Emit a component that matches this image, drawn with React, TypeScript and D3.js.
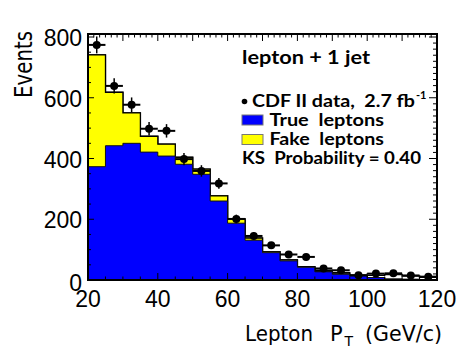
import React from 'react';
import * as d3 from 'd3';

// bin low edges (GeV/c), each bin is 5 wide
const binLowEdges = [20, 25, 30, 35, 40, 45, 50, 55, 60, 65, 70, 75, 80, 85, 90, 95, 100, 105, 110, 115];
const binWidth = 5;

// stacked prediction
const trueLeptons = [373, 442, 450, 421, 408, 381, 348, 260, 187, 131, 90, 63, 42, 27, 19, 13, 8, 3, 2, 1];
const fakeLeptons = [368, 176, 100, 52, 39, 23, 17, 17, 14, 7, 3, 3, 2, 1, 1, 1, 0, 0, 0, 0];
const totalExpected = [741, 618, 550, 473, 447, 404, 365, 277, 201, 138, 93, 66, 44, 32, 24, 16, 16, 18, 13, 9];

// CDF II data
const dataCounts = [774, 639, 577, 498, 491, 398, 359, 318, 201, 145, 114, 84, 76, 38, 32, 16, 21, 22, 15, 11];

const xTickLabels = [20, 40, 60, 80, 100, 120];
const yTickLabels = [0, 200, 400, 600, 800];

const W = 472;
const H = 354;
const left = 88, right = 437, top = 34, bottom = 280;
const sp = '\u00a0';

const App = () => {
  const x = d3.scaleLinear().domain([20, 120]).range([left, right]);
  const y = d3.scaleLinear().domain([0, 800]).range([bottom, 37]);

  // step outline: repeat last value at upper edge
  const stepArea = (vals: number[]) => {
    const pts = binLowEdges.map((e, i) => [e, vals[i]]);
    pts.push([binLowEdges[binLowEdges.length - 1] + binWidth, vals[vals.length - 1]]);
    return d3.area<number[]>()
      .x(d => x(d[0]))
      .y0(y(0))
      .y1(d => y(d[1]))
      .curve(d3.curveStepAfter)(pts) || '';
  };

  const stacked = trueLeptons.map((t, i) => t + fakeLeptons[i]);

  const font = 'Liberation Sans, Arial, sans-serif';
  const legendFont = 'Lato, Open Sans, sans-serif';

  // tick marks
  const leftMinor = d3.range(0, 801, 50);
  const rightMinor = d3.range(0, 811, 20);
  const topMinor = d3.range(0, 61).map(i => 20 + i * 10 / 6);
  const bottomMinor = d3.range(20, 121, 5);

  return (
    <svg width={W} height={H} style={{ display: 'block', position: 'absolute', left: 0, top: 0 }}>
      <rect width={W} height={H} fill="white" />

      {/* histograms */}
      <path d={stepArea(totalExpected)} fill="white" stroke="black" strokeWidth={1.5} />
      <path d={stepArea(stacked)} fill="#ffff00" stroke="black" strokeWidth={1.2} />
      <path d={stepArea(trueLeptons)} fill="#0000ff" stroke="#111" strokeWidth={1} />

      {/* data points */}
      {dataCounts.map((v, i) => {
        const cx = x(binLowEdges[i] + binWidth / 2);
        const err = Math.sqrt(v);
        return (
          <g key={i}>
            <line x1={x(binLowEdges[i])} x2={x(binLowEdges[i] + binWidth)} y1={y(v)} y2={y(v)} stroke="black" strokeWidth={2} />
            <line x1={cx} x2={cx} y1={y(v + err)} y2={y(Math.max(0, v - err))} stroke="black" strokeWidth={1.5} />
            <circle cx={cx} cy={y(v)} r={4} fill="black" />
          </g>
        );
      })}

      {/* ticks */}
      <g stroke="black" strokeWidth={1}>
        {leftMinor.map(t => (
          <line key={'l' + t} x1={left} x2={left + (t % 200 === 0 ? 6 : 3)} y1={y(t)} y2={y(t)} />
        ))}
        {rightMinor.map(t => (
          <line key={'r' + t} x1={right} x2={right - (t % 200 === 0 ? 8 : 4)} y1={y(t)} y2={y(t)} />
        ))}
        {topMinor.map((t, i) => (
          <line key={'t' + i} x1={x(t)} x2={x(t)} y1={top} y2={top + (i % 6 === 0 ? 7 : 3.5)} />
        ))}
        {bottomMinor.map(t => (
          <line key={'b' + t} x1={x(t)} x2={x(t)} y1={bottom} y2={bottom - (t % 20 === 0 ? 7 : 3.5)} />
        ))}
      </g>

      {/* frame */}
      <rect x={left} y={top} width={right - left} height={bottom - top} fill="none" stroke="black" strokeWidth={2} />

      {/* tick labels */}
      {yTickLabels.map(t => (
        <text key={'yl' + t} x={82} y={y(t) + (t === 0 ? 3 : 1)} textAnchor="end" dominantBaseline="central"
          fontFamily={font} fontSize={23}>{t}</text>
      ))}
      {xTickLabels.map(t => (
        <text key={'xl' + t} x={x(t)} y={306.5} textAnchor="middle" fontFamily={font} fontSize={23}>{t}</text>
      ))}

      {/* axis titles */}
      <text transform="translate(32,98) rotate(-90)" fontFamily="DejaVu Sans, sans-serif" fontSize={24}
        textLength={67} lengthAdjust="spacingAndGlyphs">Events</text>
      <g fontFamily="DejaVu Sans, sans-serif" fontSize={21}>
        <text x={245} y={340.5} textLength={68} lengthAdjust="spacingAndGlyphs">Lepton</text>
        <text x={330} y={340.5}>P</text>
        <text x={344.5} y={346} fontSize={14}>T</text>
        <text x={365} y={340.5} textLength={77} lengthAdjust="spacingAndGlyphs">(GeV/c)</text>
      </g>

      {/* legend */}
      <g fontFamily={legendFont} fontWeight="bold" fontSize={16.5}>
        <text x={242} y={64} fontSize={18.5} textLength={128} lengthAdjust="spacingAndGlyphs">lepton + 1 jet</text>
        <circle cx={244.5} cy={101.5} r={2.8} fill="black" />
        <text x={252} y={106.5} textLength={163} lengthAdjust="spacingAndGlyphs">{`CDF II data,${sp}${sp}2.7 fb`}</text>
        <text x={416} y={99} fontSize={11}>-1</text>
        <rect x={242} y={115} width={21} height={10} fill="#0000ff" stroke="#777" strokeWidth={1} />
        <text x={269.5} y={126} textLength={114.5} lengthAdjust="spacingAndGlyphs">{`True${sp}${sp}leptons`}</text>
        <rect x={242} y={134.5} width={21} height={10} fill="#ffff00" stroke="#777" strokeWidth={1} />
        <text x={269.5} y={145} textLength={114.5} lengthAdjust="spacingAndGlyphs">{`Fake${sp}${sp}leptons`}</text>
        <text x={242} y={163.5} textLength={179} lengthAdjust="spacingAndGlyphs">{`KS${sp}${sp}Probability = 0.40`}</text>
      </g>
    </svg>
  );
};

export default App;
